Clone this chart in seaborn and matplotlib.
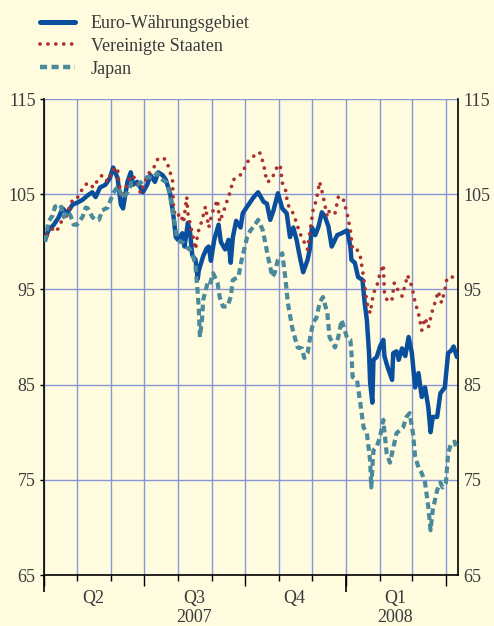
import pandas as pd
import matplotlib.pyplot as plt
import matplotlib.dates as mdates
from matplotlib.lines import Line2D
import seaborn as sns

# === Data: days since 1 April 2007 and index values (1 April 2007 = 100) ===
start = pd.Timestamp('2007-04-01')

euro_days = [1, 4, 9, 13, 17, 21, 26, 30, 35, 40, 44, 47, 51, 56, 60, 63, 67, 70, 72, 76,
             79, 81, 85, 90, 94, 97, 101, 104, 108, 111, 115, 118, 120, 122, 126, 128, 131,
             133, 135, 138, 140, 141, 145, 148, 150, 152, 155, 159, 161, 165, 168, 170, 172,
             175, 179, 181, 185, 188, 191, 195, 200, 203, 206, 209, 213, 217, 221, 224, 227,
             230, 233, 236, 240, 242, 244, 247, 250, 253, 256, 259, 262, 267, 271, 276, 279,
             280, 283, 286, 290, 292, 294, 296, 297, 299, 300, 303, 306, 309, 310, 313, 317,
             318, 321, 323, 326, 329, 332, 335, 338, 341, 344, 347, 350, 352, 354, 358, 361,
             365, 368, 371, 373, 376]
euro_vals = [100.2, 101.2, 101.8, 102.5, 103.5, 103.0, 103.9, 104.1, 104.4, 104.9, 105.2, 104.7,
             105.7, 106.0, 106.7, 107.8, 106.7, 103.9, 103.5, 106.3, 107.3, 106.0, 106.3, 105.2,
             106.0, 107.0, 106.3, 107.3, 107.0, 106.5, 105.0, 102.6, 100.5, 100.2, 100.9, 99.5,
             102.0, 101.0, 98.6, 98.1, 96.1, 97.0, 98.5, 99.3, 99.5, 98.0, 100.2, 101.8, 100.0,
             99.2, 100.2, 97.8, 100.5, 102.2, 101.5, 103.0, 103.7, 104.2, 104.7, 105.2, 104.2,
             104.0, 102.3, 103.3, 105.1, 103.5, 103.0, 100.5, 101.5, 100.2, 98.4, 96.8, 98.1,
             99.2, 101.5, 100.7, 101.6, 103.1, 102.6, 101.6, 99.5, 100.7, 100.9, 101.2, 99.5,
             98.1, 97.8, 96.3, 96.0, 93.6, 91.8, 88.3, 85.2, 83.1, 87.6, 87.9, 89.0, 89.7, 88.0,
             86.8, 85.5, 88.3, 88.5, 87.6, 88.8, 88.0, 90.0, 88.3, 84.7, 86.2, 83.7, 84.7, 82.6,
             80.0, 81.6, 81.6, 84.1, 84.7, 88.3, 88.6, 89.0, 87.9]

us_days = [3, 9, 12, 15, 20, 24, 27, 31, 36, 40, 45, 49, 53, 58, 62, 67, 68, 71, 74, 77, 81,
           85, 88, 92, 94, 100, 104, 110, 113, 117, 118, 121, 124, 127, 130, 131, 135, 138, 140,
           144, 147, 150, 153, 158, 160, 163, 167, 170, 172, 177, 181, 185, 188, 194, 197, 200,
           203, 206, 209, 212, 215, 217, 220, 222, 226, 229, 233, 236, 240, 242, 245, 248, 251,
           254, 258, 260, 265, 268, 272, 276, 279, 281, 285, 288, 291, 294, 297, 300, 303, 306,
           309, 310, 313, 317, 319, 322, 326, 329, 331, 335, 338, 341, 344, 347, 350, 353, 356,
           359, 362, 365, 367, 372]
us_vals = [100.7, 101.5, 101.2, 102.0, 102.6, 103.9, 104.6, 104.7, 105.8, 106.2, 105.7, 106.5,
           107.0, 106.3, 107.5, 107.8, 106.3, 104.6, 105.4, 106.5, 107.0, 106.0, 105.1, 106.3,
           107.0, 107.8, 108.8, 108.7, 108.0, 106.5, 103.3, 102.6, 103.0, 102.0, 104.7, 103.0,
           100.9, 99.2, 100.9, 102.3, 103.7, 101.5, 103.0, 104.4, 102.1, 103.0, 104.4, 105.4,
           106.5, 106.8, 107.3, 108.4, 108.6, 109.4, 109.3, 108.1, 106.3, 106.4, 107.0, 107.8,
           108.1, 106.2, 105.4, 103.9, 103.2, 102.3, 100.9, 100.2, 99.2, 100.9, 103.3, 104.4,
           106.3, 104.9, 102.6, 103.3, 103.0, 104.7, 104.7, 103.0, 101.2, 99.2, 99.2, 98.5,
           96.3, 93.6, 92.5, 94.6, 95.3, 96.7, 97.6, 94.6, 93.7, 94.0, 95.7, 95.0, 94.3, 95.5,
           96.5, 95.3, 93.6, 92.5, 90.7, 92.0, 91.0, 92.5, 93.6, 94.8, 93.6, 94.9, 96.2, 96.3]

japan_days = [1, 4, 8, 10, 15, 18, 21, 24, 27, 30, 35, 38, 40, 44, 47, 50, 53, 58, 60, 63, 67,
              70, 72, 76, 80, 85, 88, 94, 99, 103, 108, 112, 115, 118, 121, 124, 127, 130, 133,
              136, 138, 140, 141, 142, 144, 145, 149, 151, 154, 158, 160, 163, 167, 170, 172,
              177, 180, 185, 188, 191, 195, 199, 201, 204, 208, 210, 213, 217, 220, 222, 226,
              229, 231, 235, 237, 240, 242, 245, 248, 251, 254, 258, 260, 265, 268, 271, 276,
              279, 280, 281, 285, 288, 291, 294, 297, 298, 300, 303, 306, 309, 312, 315, 318,
              321, 324, 327, 330, 333, 336, 338, 341, 344, 347, 350, 352, 354, 358, 361, 363,
              366, 368, 371, 374, 376]
japan_vals = [100.0, 102.1, 102.8, 103.7, 103.9, 102.6, 103.2, 102.8, 101.8, 101.8, 102.6,
              103.6, 103.5, 102.6, 102.3, 102.3, 103.3, 103.6, 104.2, 105.1, 105.8, 105.1, 104.6,
              105.2, 106.2, 106.0, 106.2, 106.8, 106.7, 107.2, 106.5, 106.2, 104.7, 102.6, 100.5,
              100.0, 99.9, 99.4, 99.2, 98.4, 97.4, 94.6, 92.8, 90.0, 92.0, 93.9, 95.7, 95.5, 96.7,
              95.7, 94.2, 93.2, 93.2, 94.2, 96.0, 96.3, 98.1, 100.5, 101.2, 101.6, 102.3, 101.3,
              100.2, 98.4, 96.3, 96.7, 98.1, 98.8, 96.0, 93.6, 91.0, 89.7, 88.9, 88.8, 87.8, 88.3,
              89.7, 91.5, 92.0, 93.6, 94.2, 92.5, 90.0, 88.9, 90.0, 91.8, 89.9, 89.7, 88.3, 85.8,
              85.5, 83.1, 80.5, 79.9, 77.0, 74.2, 78.1, 78.5, 79.5, 81.3, 77.8, 76.8, 78.3, 79.9,
              80.2, 80.5, 81.6, 82.0, 79.9, 77.4, 76.3, 75.7, 74.7, 72.1, 69.7, 71.8, 73.9, 74.7,
              74.2, 74.7, 77.8, 78.9, 79.0, 78.1]

series_names = ['Euro-Währungsgebiet', 'Vereinigte Staaten', 'Japan']
y_ticks = [65, 75, 85, 95, 105, 115]
quarter_labels = ['Q2', 'Q3', 'Q4', 'Q1']
quarter_mid = ['2007-05-16', '2007-08-16', '2007-11-15', '2008-02-15']
year_labels = ['2007', '2008']
year_mid = ['2007-08-16', '2008-02-15']


def to_frame(days, vals):
    return pd.DataFrame({'date': start + pd.to_timedelta(days, unit='D'), 'value': vals})


euro = to_frame(euro_days, euro_vals)
us = to_frame(us_days, us_vals)
japan = to_frame(japan_days, japan_vals)

# === Style ===
bg = '#fefbdf'
text_color = '#3a3a3a'
grid_color = '#8896d6'
c_euro, c_us, c_japan = '#0a4f9e', '#ab3131', '#4b8a9b'
fs = 13

us_style = (0, (0.01, 2.1))
japan_style = (0, (1.6, 1.0))

sns.set_theme(style='white')
plt.rcParams['font.family'] = ['Liberation Serif', 'DejaVu Serif']
plt.rcParams['text.color'] = text_color
plt.rcParams['xtick.color'] = 'black'
plt.rcParams['ytick.color'] = 'black'

fig = plt.figure(figsize=(4.94, 6.26), dpi=100, facecolor=bg)
ax = fig.add_axes([44 / 494, 1 - 575 / 626, 414 / 494, 476 / 626])
ax.set_facecolor(bg)

# === Lines ===
sns.lineplot(data=euro, x='date', y='value', ax=ax, color=c_euro, linewidth=3.2,
             solid_joinstyle='round', solid_capstyle='round', zorder=3)
sns.lineplot(data=us, x='date', y='value', ax=ax, color=c_us, linewidth=2.7,
             linestyle=us_style, dash_capstyle='round', zorder=4)
sns.lineplot(data=japan, x='date', y='value', ax=ax, color=c_japan, linewidth=3.0,
             linestyle=japan_style, dash_capstyle='butt', zorder=5)

# === Axes ===
ax.set_xlim(start, start + pd.Timedelta(days=377))
ax.set_ylim(65, 115)
ax.set_xlabel('')
ax.set_ylabel('')

ax.set_yticks(y_ticks)
ax.tick_params(axis='y', which='major', direction='out', length=3, width=1,
               labelsize=fs, labelcolor=text_color, pad=3, left=True)

ax.xaxis.set_major_locator(mdates.MonthLocator(bymonth=[1, 4, 7, 10]))
ax.xaxis.set_minor_locator(mdates.MonthLocator())
ax.tick_params(axis='x', which='major', direction='out', length=8, width=1,
               labelbottom=False, bottom=True)
ax.tick_params(axis='x', which='minor', direction='out', length=4, width=1, bottom=True)

ax.grid(True, which='both', axis='x', color=grid_color, linewidth=1)
ax.grid(True, which='major', axis='y', color=grid_color, linewidth=1)
ax.set_axisbelow(True)

for side in ['left', 'right', 'bottom']:
    ax.spines[side].set_color('black')
    ax.spines[side].set_linewidth(1.2)
ax.spines['top'].set_visible(False)

# right-hand labels
ax2 = ax.secondary_yaxis('right')
ax2.set_yticks(y_ticks)
ax2.tick_params(length=0, labelsize=fs, labelcolor=text_color, pad=4)
ax2.spines['right'].set_visible(False)

# longer ticks at the year marks
ax3 = ax.secondary_xaxis('bottom')
ax3.set_xticks([start, pd.Timestamp('2008-01-01')])
ax3.tick_params(direction='out', length=12, width=1.2, labelbottom=False)
ax3.spines['bottom'].set_visible(False)

xt = ax.get_xaxis_transform()
for lab, d in zip(quarter_labels, quarter_mid):
    ax.text(pd.Timestamp(d), -0.049, lab, transform=xt, ha='center', va='center',
            fontsize=fs, color=text_color)
for lab, d in zip(year_labels, year_mid):
    ax.text(pd.Timestamp(d), -0.089, lab, transform=xt, ha='center', va='center',
            fontsize=fs, color=text_color)

# === Legend ===
handles = [
    Line2D([], [], color=c_euro, linewidth=3.6),
    Line2D([], [], color=c_us, linewidth=2.7, linestyle=us_style, dash_capstyle='round'),
    Line2D([], [], color=c_japan, linewidth=3.2, linestyle=japan_style),
]
fig.legend(handles, series_names, loc='upper left', bbox_to_anchor=(40 / 494, 1 - 15 / 626),
           frameon=False, fontsize=fs, handlelength=1.95, handletextpad=0.85,
           labelspacing=0.32, borderpad=0, borderaxespad=0)

fig.savefig('out.png', dpi=100, facecolor=bg)
